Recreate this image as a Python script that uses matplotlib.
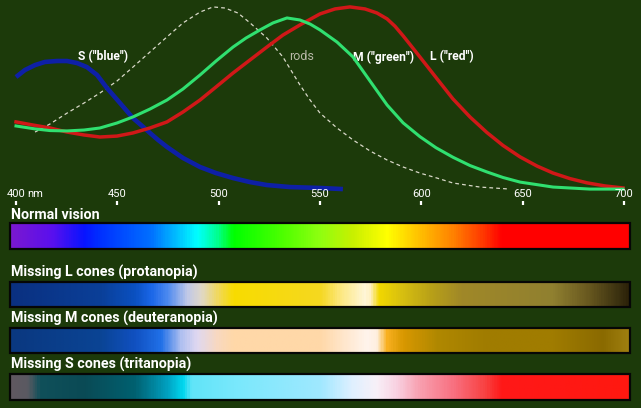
import numpy as np
import matplotlib
matplotlib.use('Agg')
import matplotlib.pyplot as plt
from matplotlib.colors import LinearSegmentedColormap
from matplotlib.patches import Rectangle

plt.rcParams['font.family'] = ['Roboto', 'DejaVu Sans']

# Cone / rod sensitivity curves (wavelength in nm, relative sensitivity)
s_nm = [400.0, 404.4, 409.4, 414.3, 420.2, 425.2, 430.1, 435.0, 440.0, 444.9, 451.3, 457.7, 461.7,
        466.1, 470.1, 474.5, 482.4, 490.8, 498.7, 507.1, 515.5, 523.8, 535.2, 550.0, 561.3]
s_val = [0.614, 0.652, 0.679, 0.696, 0.701, 0.701, 0.690, 0.668, 0.625, 0.554, 0.473, 0.391, 0.353,
         0.310, 0.272, 0.234, 0.174, 0.125, 0.092, 0.065, 0.043, 0.027, 0.016, 0.011, 0.005]

m_nm = [400.0, 409.4, 416.8, 425.2, 433.6, 441.4, 449.8, 457.7, 466.1, 474.5, 482.4, 490.8, 498.7,
        507.1, 513.5, 520.4, 526.8, 533.7, 540.1, 545.1, 550.0, 558.4, 566.3, 574.7, 583.1, 591.0,
        599.3, 607.2, 615.6, 624.0, 632.4, 640.3, 648.7, 665.0, 683.2, 699.5]
m_val = [0.348, 0.332, 0.323, 0.321, 0.326, 0.337, 0.364, 0.397, 0.440, 0.489, 0.549, 0.625, 0.701,
         0.777, 0.826, 0.870, 0.908, 0.935, 0.924, 0.902, 0.870, 0.804, 0.723, 0.592, 0.462, 0.365,
         0.290, 0.230, 0.178, 0.133, 0.098, 0.068, 0.043, 0.016, 0.005, 0.005]

l_nm = [400.0, 408.4, 416.8, 425.2, 433.6, 441.4, 449.8, 457.7, 466.1, 474.5, 482.4, 490.8, 498.7,
        507.1, 515.5, 523.8, 531.7, 540.1, 550.0, 557.4, 564.8, 572.2, 578.1, 583.1, 587.0, 591.0,
        595.2, 599.3, 607.7, 615.6, 624.0, 632.4, 640.3, 648.7, 657.1, 665.0, 673.3, 681.7, 690.6,
        699.5]
l_val = [0.370, 0.353, 0.337, 0.315, 0.299, 0.288, 0.293, 0.310, 0.337, 0.370, 0.424, 0.489, 0.560,
         0.636, 0.707, 0.777, 0.842, 0.897, 0.957, 0.984, 0.995, 0.984, 0.962, 0.930, 0.890, 0.838,
         0.780, 0.723, 0.605, 0.495, 0.397, 0.312, 0.242, 0.180, 0.130, 0.092, 0.062, 0.039, 0.022,
         0.011]

rod_nm = [409.4, 416.8, 425.2, 433.6, 441.4, 449.8, 457.7, 466.1, 474.5, 482.4, 490.8, 497.2, 503.1,
          509.5, 515.5, 523.8, 531.7, 540.1, 545.1, 550.0, 558.4, 566.3, 574.7, 583.1, 591.0, 599.3,
          607.7, 615.6, 628.9, 643.7]
rod_val = [0.315, 0.359, 0.418, 0.473, 0.527, 0.592, 0.668, 0.750, 0.832, 0.908, 0.967, 0.995, 0.989,
           0.962, 0.908, 0.826, 0.723, 0.571, 0.489, 0.418, 0.337, 0.272, 0.212, 0.163, 0.125, 0.092,
           0.065, 0.038, 0.016, 0.005]

tick_nm = [400, 450, 500, 550, 600, 650, 700]
tick_labels = ['400', '450', '500', '550', '600', '650', '700']

# Colour bands: (wavelength stop, colour)
band_titles = ['Normal vision', 'Missing L cones (protanopia)',
               'Missing M cones (deuteranopia)', 'Missing S cones (tritanopia)']

normal_stops = [(397, '#7a18d0'), (417, '#5a10ee'), (433, '#0814ff'), (441, '#0030ff'),
                (466, '#0070ff'), (479, '#00c0ff'), (489, '#00ffff'), (499, '#00ff90'),
                (507, '#00ff00'), (532, '#50ff00'), (550, '#90ff10'), (566, '#c8f000'),
                (583, '#ffff00'), (599, '#ffc000'), (616, '#ff8000'), (632, '#ff3000'),
                (640, '#ff0000'), (703, '#ff0000')]

protan_stops = [(397, '#0a3080'), (441, '#0a3f98'), (458, '#0a50c0'), (466, '#1a66e8'),
                (474, '#4a88f0'), (484, '#c0c8e8'), (491, '#e0d8c8'), (499, '#f0d860'),
                (507, '#f8dc00'), (550, '#f5d820'), (560, '#fde880'), (572, '#fff6d8'),
                (575, '#fff0c0'), (579, '#f2d800'), (590, '#d8c010'), (605, '#b8a018'),
                (620, '#a08828'), (665, '#908030'), (682, '#6a5a20'), (698, '#3a3010'),
                (703, '#2a2008')]

deuter_stops = [(397, '#0a3880'), (441, '#0a4494'), (458, '#1050c0'), (471, '#2070e8'),
                (481, '#b0c0f0'), (489, '#e0d8f0'), (499, '#f8d8c0'), (507, '#ffd8a8'),
                (550, '#ffd8a8'), (563, '#ffe8d0'), (573, '#fff4ec'), (578, '#fff0e0'),
                (583, '#f8b020'), (591, '#d89800'), (608, '#b08800'), (632, '#a07c00'),
                (665, '#a07c00'), (690, '#8a6a00'), (703, '#a08010')]

tritan_stops = [(397, '#605860'), (405, '#5a5a62'), (411, '#10505a'), (433, '#0a4a55'),
                (458, '#006070'), (474, '#00a0c0'), (482, '#00d8f0'), (486, '#60e4f8'),
                (507, '#78e8fc'), (550, '#a0e8ff'), (566, '#e0f0ff'), (578, '#f8f0f8'),
                (588, '#f8d0e0'), (599, '#f8a0b0'), (616, '#f87080'), (632, '#f84040'),
                (640, '#ff1818'), (703, '#ff1810')]

band_stops = [normal_stops, protan_stops, deuter_stops, tritan_stops]

# Layout (pixels from the top of the picture)
W, H = 641, 408
bg = '#1c3a0a'
px_per_nm = 608 / 300.0
x_left = 400 - 16 / px_per_nm
x_right = 400 + (W - 16) / px_per_nm
axis_y = 205
band_rows = [(223, 249), (282, 307), (328, 353), (374, 400)]
title_base = [219, 277, 323, 369]
band_lo, band_hi = 397, 703

fig = plt.figure(figsize=(W / 100, H / 100), dpi=100, facecolor=bg)

# curves
ax = fig.add_axes([0, 1 - axis_y / H, 1, axis_y / H])
ax.set_facecolor('none')
ax.plot(rod_nm, rod_val, color='#d8d8c8', lw=0.9, dashes=(3, 2.5), zorder=1)
ax.plot(s_nm, s_val, color='#0e20a6', lw=3.3, solid_capstyle='butt', zorder=2)
ax.plot(l_nm, l_val, color='#d01818', lw=2.5, zorder=3)
ax.plot(m_nm, m_val, color='#30e070', lw=2.2, zorder=4)
ax.set_xlim(x_left, x_right)
ax.set_ylim((190 - axis_y) / 184.0, 190 / 184.0)
ax.axis('off')

lab_kw = dict(fontsize=8.7, fontweight='bold', ha='center', va='center')
ax.text(442.9, 0.723, 'S ("blue")', color='white', **lab_kw)
ax.text(541.1, 0.723, 'rods', color='#b8b8a8', fontsize=9, ha='center', va='center')
ax.text(581.3, 0.723, 'M ("green")', color='white', **lab_kw)
ax.text(614.9, 0.723, 'L ("red")', color='white', **lab_kw)

# colour bands
axb = fig.add_axes([0, 0, 1, (H - axis_y) / H])
axb.set_facecolor('none')
grad = np.linspace(0, 1, 600)[None, :]
for title, stops, (top, bot), base in zip(band_titles, band_stops, band_rows, title_base):
    cmap = LinearSegmentedColormap.from_list(
        title, [((nm - band_lo) / (band_hi - band_lo), c) for nm, c in stops])
    axb.imshow(grad, cmap=cmap, extent=(band_lo, band_hi, bot, top), aspect='auto',
               interpolation='bilinear', zorder=1)
    axb.add_patch(Rectangle((band_lo, top), band_hi - band_lo, bot - top, fill=False,
                            ec='#060606', lw=1.6, zorder=2))
    axb.text(397.5, base, title, color='white', fontsize=10.3, fontweight='bold',
             ha='left', va='baseline')

axb.set_xlim(x_left, x_right)
axb.set_ylim(H, axis_y)
for sp in axb.spines.values():
    sp.set_visible(False)
axb.xaxis.tick_top()
axb.set_xticks(tick_nm)
axb.set_xticklabels(tick_labels)
axb.tick_params(axis='x', direction='out', length=3, width=1.6, color='white',
                labelcolor='white', labelsize=8, pad=1)
axb.set_yticks([])
axb.annotate('nm', xy=(400, 1), xycoords=('data', 'axes fraction'), xytext=(8, 4),
             textcoords='offset points', color='white', fontsize=8, ha='left', va='bottom')

fig.savefig('out.png', dpi=100, facecolor=bg)
